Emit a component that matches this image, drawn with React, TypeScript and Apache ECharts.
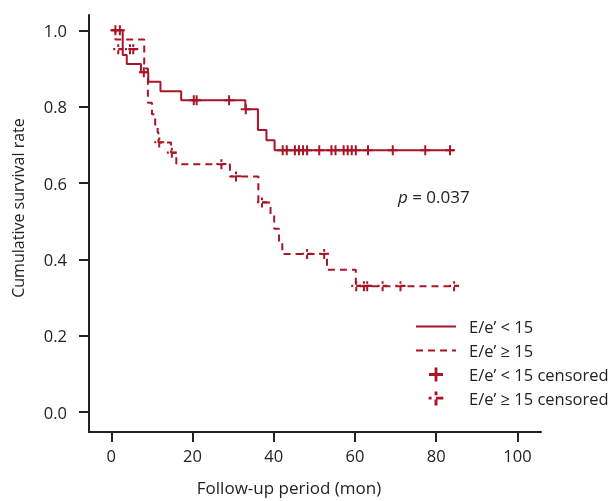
import React, { useEffect, useRef } from "react";
import * as echarts from "echarts";

// Kaplan–Meier step points [months, cumulative survival]
const lowRatioSteps: [number, number][] = [
  [0, 1.0], [2.8, 0.935], [3.8, 0.912], [7.3, 0.89], [9.1, 0.865], [12.1, 0.84],
  [17.2, 0.817], [33.0, 0.793], [36.1, 0.739], [38.2, 0.712], [40.2, 0.686], [84.4, 0.686],
];
const highRatioSteps: [number, number][] = [
  [0, 1.0], [1.0, 0.976], [8.1, 0.9], [9.0, 0.81], [10.0, 0.78], [10.8, 0.75],
  [11.4, 0.732], [11.6, 0.706], [14.7, 0.679], [16.0, 0.649], [29.2, 0.617],
  [36.2, 0.549], [39.2, 0.516], [40.1, 0.48], [41.3, 0.445], [42.1, 0.414],
  [53.1, 0.373], [60.2, 0.33], [84.4, 0.33],
];
// censored observations [months, survival]
const lowRatioCensored: [number, number][] = [
  [1.0, 1.0], [2.1, 1.0], [8.0, 0.89], [20.3, 0.817], [21.0, 0.817], [29.0, 0.817],
  [33.1, 0.793], [42.2, 0.686], [43.2, 0.686], [45.2, 0.686], [46.2, 0.686],
  [47.2, 0.686], [48.2, 0.686], [51.2, 0.686], [54.2, 0.686], [55.2, 0.686],
  [57.2, 0.686], [58.2, 0.686], [59.2, 0.686], [60.2, 0.686], [63.2, 0.686],
  [69.3, 0.686], [77.3, 0.686], [83.4, 0.686],
];
const highRatioCensored: [number, number][] = [
  [1.7, 0.95], [4.6, 0.95], [5.4, 0.95], [11.8, 0.706], [14.9, 0.679], [27.1, 0.649],
  [30.7, 0.617], [37.1, 0.549], [48.2, 0.414], [52.4, 0.414], [60.3, 0.33],
  [62.2, 0.33], [63.0, 0.33], [66.8, 0.33], [71.2, 0.33], [84.4, 0.33],
];
const monthTicks = [0, 20, 40, 60, 80, 100];
const survivalTicks = [0, 0.2, 0.4, 0.6, 0.8, 1.0];
const seriesNames = ["E/e’ < 15", "E/e’ ≥ 15", "E/e’ < 15 censored", "E/e’ ≥ 15 censored"];
const pValueText = "= 0.037";

const RED = "#a81526";
const INK = "#222222";
const FONT = "'Open Sans', sans-serif";
const PLUS = "path://M4,0H6V10H4Z M0,4H10V6H0Z";
const DASH_PLUS = "path://M0,4H2V6H0Z M5,4H10V6H5Z M4,0.5H6V3H4Z M4,6H6V10H4Z";

export default function App() {
  const ref = useRef<HTMLDivElement>(null);
  useEffect(() => {
    if (!ref.current) return;
    const chart = echarts.init(ref.current, undefined, { renderer: "svg" });
    chart.setOption({
      animation: false,
      textStyle: { fontFamily: FONT },
      grid: { left: 89, right: 73, top: 15, bottom: 69 },
      xAxis: {
        type: "value",
        min: -5.5,
        max: 105.8,
        axisLine: { show: true, onZero: false, lineStyle: { color: INK, width: 2 } },
        axisTick: { show: true, length: 10, customValues: monthTicks, lineStyle: { color: INK, width: 2 } },
        axisLabel: { customValues: monthTicks, margin: 15, fontSize: 16.5, color: INK, fontFamily: FONT },
        splitLine: { show: false },
      },
      yAxis: {
        type: "value",
        min: -0.052,
        max: 1.04,
        axisLine: { show: true, onZero: false, lineStyle: { color: INK, width: 2 } },
        axisTick: { show: true, length: 10, customValues: survivalTicks, lineStyle: { color: INK, width: 2 } },
        axisLabel: {
          customValues: survivalTicks,
          margin: 22,
          fontSize: 16.5,
          color: INK,
          fontFamily: FONT,
          formatter: (v: number) => v.toFixed(1),
        },
        splitLine: { show: false },
      },
      legend: {
        orient: "vertical",
        left: 415,
        top: 318,
        padding: 0,
        itemWidth: 40,
        itemHeight: 14,
        itemGap: 7,
        data: [
          { name: seriesNames[0], itemStyle: { opacity: 0 } },
          { name: seriesNames[1], itemStyle: { opacity: 0 } },
          { name: seriesNames[2] },
          { name: seriesNames[3] },
        ],
        textStyle: { fontSize: 16.5, color: INK, fontFamily: FONT, padding: [0, 0, 0, 8] },
        selectedMode: false,
      },
      series: [
        {
          name: seriesNames[0],
          type: "line",
          step: "end",
          data: lowRatioSteps,
          symbol: "none",
          lineStyle: { color: RED, width: 2 },
          itemStyle: { color: RED },
          z: 3,
        },
        {
          name: seriesNames[1],
          type: "line",
          step: "end",
          data: highRatioSteps,
          symbol: "none",
          lineStyle: { color: RED, width: 2, type: [7, 5] },
          itemStyle: { color: RED },
          z: 2,
        },
        {
          name: seriesNames[2],
          type: "scatter",
          data: lowRatioCensored,
          symbol: PLUS,
          symbolSize: 10,
          itemStyle: { color: RED, opacity: 1 },
          z: 4,
        },
        {
          name: seriesNames[3],
          type: "scatter",
          data: highRatioCensored,
          symbol: DASH_PLUS,
          symbolSize: 10,
          itemStyle: { color: RED, opacity: 1 },
          z: 4,
        },
      ],
      graphic: [
        {
          type: "text",
          x: 18,
          y: 208,
          rotation: Math.PI / 2,
          style: {
            text: "Cumulative survival rate",
            fontSize: 16,
            fontFamily: FONT,
            fill: INK,
            align: "center",
            verticalAlign: "middle",
          },
        },
        {
          type: "text",
          x: 289,
          y: 487,
          style: {
            text: "Follow-up period (mon)",
            fontSize: 17,
            fontFamily: FONT,
            fill: INK,
            align: "center",
            verticalAlign: "middle",
          },
        },
        {
          type: "text",
          x: 398,
          y: 196,
          style: {
            text: "{i|p} " + pValueText,
            fontSize: 17,
            fontFamily: FONT,
            fill: INK,
            verticalAlign: "middle",
            rich: { i: { fontStyle: "italic", fontSize: 17, fontFamily: FONT, fill: INK } },
          },
        },
      ],
    });
    return () => chart.dispose();
  }, []);
  return <div ref={ref} style={{ width: 614, height: 501, position: "fixed", left: 0, top: 0 }} />;
}
